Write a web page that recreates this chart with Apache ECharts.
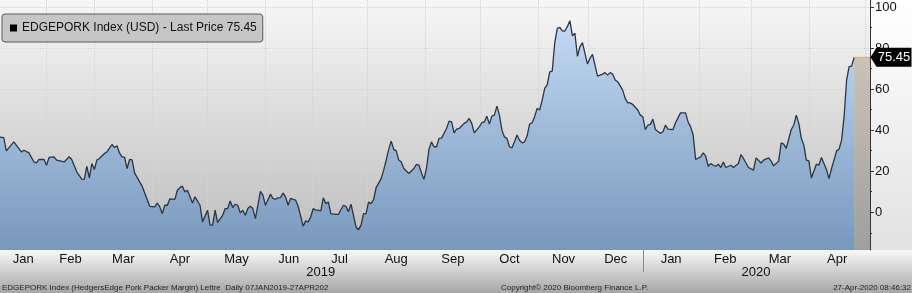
<!DOCTYPE html>
<html><head><meta charset="utf-8">
<script src="https://cdn.jsdelivr.net/npm/echarts@6/dist/echarts.min.js"></script>
<style>html,body{margin:0;padding:0;background:#fff}#c{width:912px;height:293px}</style>
</head><body><div id="c"></div>
<script>
const seriesName = 'EDGEPORK Index (USD)';
// trading-day index (0 = 07 Jan 2019)
const tradingDays = [0,2,3,6,9,10,12,14,15,16,18,19,20,22,23,26,28,29,31,33,34,35,36,37,38,39,40,42,43,45,46,47,48,49,50,51,52,53,54,56,57,59,60,62,63,64,65,66,67,68,70,71,72,73,74,75,77,78,80,81,83,84,85,86,87,89,90,91,92,93,94,95,96,97,98,99,100,101,102,103,104,105,106,108,109,110,111,112,113,114,115,116,117,118,119,121,122,123,124,125,126,127,128,129,130,131,132,134,135,137,138,139,140,141,142,143,144,145,146,147,148,149,150,152,153,154,155,156,157,158,159,160,161,163,165,166,167,168,169,170,171,172,173,174,175,176,178,179,180,181,182,183,185,186,187,188,189,191,192,193,194,195,196,197,198,199,200,201,202,203,204,205,206,207,208,209,210,211,212,213,214,215,216,217,218,219,220,221,222,223,224,225,226,227,228,229,230,231,232,233,234,235,236,237,238,240,241,242,243,244,245,246,248,249,250,251,252,254,255,256,257,258,259,260,261,263,264,265,266,268,269,271,273,274,275,276,277,279,280,281,282,283,284,285,286,287,288,289,291,292,294,295,296,298,300,301,303,304,306,307,308,310,311,312,313,315,316,317,318,319,320,321,322,323,324,325,326,327,329,330,331,332,333,334,335,336,337,338,339,340];
const prices = [36.7,36.4,29.9,34.3,29.4,30.2,28.9,24.5,24,25.7,25.7,22.9,26.7,27,25.4,24.5,27,25.7,19.7,16.1,16,22.4,16.7,23.7,20.8,25.4,26.2,28.6,29.4,33,31.5,32.4,28.9,27,26.8,21.3,25.7,25.5,19.2,14.8,12.7,6.2,2.9,2.6,4.5,2.6,-0.7,3.4,3.4,6.5,6.3,10.7,12,12.7,9.9,10.7,4.5,7.5,3.4,-4.7,1,-6.3,-6.3,1,-5,-1.5,1.8,1.8,5.5,2.3,3.9,3.4,-0.3,1,-1.5,1.8,2.9,1.8,-3.1,3.4,10.2,8.3,3.4,8.8,6.7,6.3,7,7.1,9.4,7.5,3.4,6.7,6.3,5.9,2.9,-6.8,-4.2,-4.7,-2.3,1.8,1,1,0.6,7,4.2,5,-0.7,-1,-1,3.4,2.9,0.2,3.9,-1.5,-7.2,-8.5,-6.3,-0.7,-0.7,5,4.2,6.2,12,16.4,20.5,25.4,30.6,34.6,30.6,29.9,25.4,24.5,21.3,18.9,21.3,23.3,23,19.2,16,21.3,30.6,34.3,31.9,31.9,36,36.1,40.8,44.4,44,38.7,40.5,40.8,43.3,44,45.7,43.3,38.7,41.6,43.6,44,46.8,42.9,46.8,47.3,51.7,47.3,40,36.7,36,31.9,31.4,34.3,37.6,35.1,33.8,34.3,37.1,42.9,43.6,46.5,50.6,49.8,54.6,60.3,62,68.4,68.8,82.6,89.6,90.1,88.4,88.3,90.4,93.3,86,87.2,76,80.6,82.6,77.4,72.2,75,76.9,71.7,66.3,67.3,68,66.8,68,67.3,64.4,63.6,59.5,55.5,53.3,53.3,52.5,49.8,47.3,46.5,40.3,42.4,42.8,45.4,40.3,38.4,39.2,42.4,40.5,40.3,43.6,48.4,48.4,44,41.6,37.6,25.7,27,28.9,27.3,22.4,23.7,22.9,22.4,23.4,21.8,24.5,21.8,22.9,21.8,23.7,28.1,26.2,21.8,20.5,26.5,24,25.4,26.5,24.9,22.6,24.9,33.8,33.2,31.1,40.3,42.4,47.3,43.3,36,32.7,25.4,25,16.7,20.1,23.4,23,26.7,20.8,16.4,21.3,25.4,29.9,30.7,35.1,46.5,64.4,70.9,71.2,75.45];
const lastPrice = 75.45;
const monthBounds = [0.5,19,38,61,83,106,124.5,146.5,169.5,191.5,214.5,234.5,256,278.5,299,322,344.5];
const monthNames = ['Jan','Feb','Mar','Apr','May','Jun','Jul','Aug','Sep','Oct','Nov','Dec','Jan','Feb','Mar','Apr'];
const yearLabels = ['2019','2020'];
const yearCenters = [128,301];
const yearBreak = [256];
const yTicks = [0,20,40,60,80,100];
const yMinorTicks = [-10,10,30,50,70,90];
const xMin = 0.5, xMax = 346.3, yMin = -18.4, yMax = 103.4;
const footerLeft = 'EDGEPORK Index (HedgersEdge Pork Packer Margin) Lettre  Daily 07JAN2019-27APR202';
const footerMid = 'Copyright\u00a9 2020 Bloomberg Finance L.P.';
const footerRight = '27-Apr-2020 08:46:32';

const FONT = '"Liberation Sans", Arial, sans-serif';
const monthMid = monthNames.map((_, i) => (monthBounds[i] + monthBounds[i + 1]) / 2);
const monthLookup = {}; monthMid.forEach((m, i) => monthLookup[m] = monthNames[i]);
const yearLookup = {}; yearCenters.forEach((c, i) => yearLookup[c] = yearLabels[i]);
const lastDay = tradingDays[tradingDays.length - 1];

const grad = (a, b, y0, y1) => ({type: 'linear', x: 0, y: y0, x2: 0, y2: y1, global: true,
  colorStops: [{offset: 0, color: a}, {offset: 1, color: b}]});

const chart = echarts.init(document.getElementById('c'), null, {renderer: 'canvas'});
const baseX = {type: 'value', min: xMin, max: xMax, position: 'bottom', axisLine: {show: false}};
chart.setOption({
  animation: false,
  backgroundColor: grad('#ffffff', '#e2e2e2', 0, 250),
  grid: {left: 0, right: 42, top: 0, bottom: 43, show: true, borderWidth: 0,
    backgroundColor: grad('#f7f7f7', '#bcbcbc', 0, 250)},
  legend: {
    left: 2, top: 14, orient: 'horizontal',
    data: [{name: seriesName, icon: 'rect', itemStyle: {color: '#000'}}],
    itemWidth: 7, itemHeight: 7,
    backgroundColor: '#c6c6c6', borderColor: '#5a5a5a', borderWidth: 1, borderRadius: 3,
    padding: [8, 6, 8, 8],
    textStyle: {fontFamily: FONT, fontSize: 12, color: '#111'},
    formatter: n => n + ' - Last Price ' + lastPrice.toFixed(2)
  },
  xAxis: [
    Object.assign({}, baseX, {
      axisTick: {show: true, customValues: monthBounds.slice(1), length: 3, lineStyle: {color: '#555'}},
      axisLabel: {show: false},
      splitLine: {show: true, lineStyle: {color: '#d3d3d3', type: 'dotted', width: 1}}
    }),
    Object.assign({}, baseX, {
      axisTick: {show: false},
      axisLabel: {show: true, customValues: monthMid, margin: 3, fontFamily: FONT, fontSize: 13, color: '#111',
        formatter: v => monthLookup[v] || ''},
      splitLine: {show: false}
    }),
    Object.assign({}, baseX, {
      axisTick: {show: true, customValues: yearBreak, length: 22, lineStyle: {color: '#8a8a8a'}},
      axisLabel: {show: true, customValues: yearCenters, margin: 16, fontFamily: FONT, fontSize: 13, color: '#111',
        formatter: v => yearLookup[v] || ''},
      splitLine: {show: false}
    })
  ],
  yAxis: [
    {type: 'value', position: 'right', min: yMin, max: yMax,
      axisLine: {show: true, lineStyle: {color: '#333', width: 1}},
      axisTick: {show: true, customValues: yTicks, length: 4, lineStyle: {color: '#333'}},
      axisLabel: {show: true, customValues: yTicks, margin: 5, fontFamily: FONT, fontSize: 13, color: '#111'},
      splitLine: {show: true, lineStyle: {color: '#d3d3d3', type: 'dotted', width: 1}}
    },
    {type: 'value', position: 'right', min: yMin, max: yMax,
      axisLine: {show: false},
      axisTick: {show: true, customValues: yMinorTicks, length: 2, lineStyle: {color: '#333'}},
      axisLabel: {show: false},
      splitLine: {show: false}
    }
  ],
  series: [
    {
      name: seriesName, type: 'line', xAxisIndex: 0, yAxisIndex: 0,
      data: tradingDays.map((d, i) => [d, prices[i]]),
      symbol: 'none', smooth: false,
      lineStyle: {color: '#2b3543', width: 1.3},
      itemStyle: {color: '#000'},
      areaStyle: {origin: 'start', color: grad('#c3daf4', '#7898bc', 20, 250), opacity: 1}
    },
    {
      name: 'last', type: 'line', xAxisIndex: 0, yAxisIndex: 0, clip: false,
      data: [[lastDay, lastPrice], [xMax, lastPrice]],
      symbol: 'none',
      lineStyle: {color: '#f0a45c', width: 1},
      areaStyle: {origin: 'start', color: grad('#cbc2b8', '#9f9f9f', 57, 250), opacity: 1},
      markPoint: {
        symbol: 'path://M0,10 L7,0 L48,0 L48,20 L7,20 Z',
        symbolSize: [41, 19], symbolOffset: [21, 0], symbolKeepAspect: false,
        itemStyle: {color: '#000'},
        label: {show: true, position: 'inside', offset: [3, 0], color: '#fff', fontFamily: FONT, fontSize: 13,
          formatter: () => lastPrice.toFixed(2)},
        data: [{coord: [xMax, lastPrice], value: lastPrice}]
      }
    }
  ],
  graphic: [
    {type: 'rect', z: -10, shape: {x: 0, y: 250, width: 912, height: 43},
      style: {fill: grad('#f8f8f8', '#a6a6a6', 250, 293)}},
    {type: 'text', z: 10, x: 2, y: 284, style: {text: footerLeft, font: '8px ' + FONT, fill: '#222'}},
    {type: 'text', z: 10, x: 501, y: 284, style: {text: footerMid, font: '8px ' + FONT, fill: '#222'}},
    {type: 'text', z: 10, right: 1, y: 284, style: {text: footerRight, font: '8px ' + FONT, fill: '#222'}}
  ]
});
</script></body></html>
